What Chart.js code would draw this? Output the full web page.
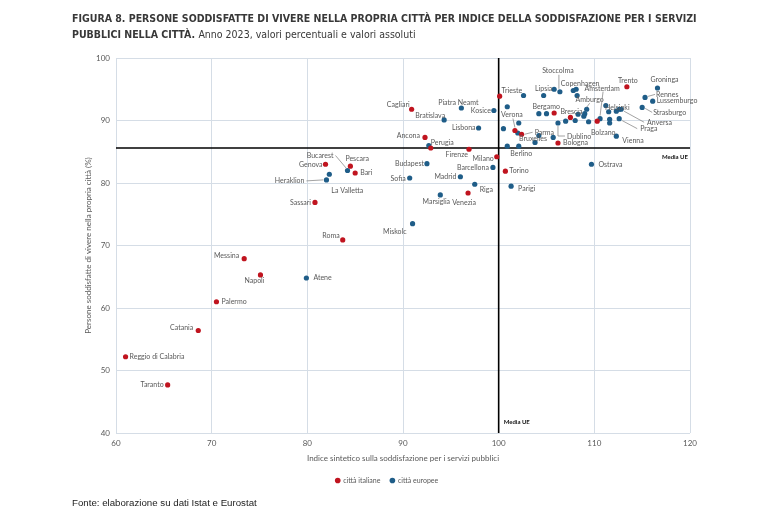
<!DOCTYPE html>
<html lang="it">
<head>
<meta charset="utf-8">
<title>Figura 8</title>
<script src="https://cdn.jsdelivr.net/npm/chart.js@4.4.1/dist/chart.umd.min.js"></script>
<style>
    html, body { margin: 0; padding: 0; background: #fff; }
    #wrap { position: relative; width: 767px; height: 516px; overflow: hidden; }
    #chart { position: absolute; left: 0; top: 0; }
    .title {
        position: absolute; left: 72px; top: 10px;
        font-family: 'Liberation Sans Narrow', 'DejaVu Sans Condensed', sans-serif;
        font-size: 10.5px; line-height: 16px; font-weight: bold; color: #383838;
    }
    .title span { font-weight: normal; }
    .fonte {
        position: absolute; left: 72px; top: 497px;
        font-family: 'Liberation Sans', Arial, sans-serif; font-size: 9.7px; color: #222;
    }
</style>
</head>
<body>
<div id="wrap">
    <canvas id="chart" width="767" height="516"></canvas>
    <div class="title">FIGURA 8. PERSONE SODDISFATTE DI VIVERE NELLA PROPRIA CITTÀ PER INDICE DELLA SODDISFAZIONE PER I SERVIZI<br>PUBBLICI NELLA CITTÀ. <span>Anno 2023, valori percentuali e valori assoluti</span></div>
    <div class="fonte">Fonte: elaborazione su dati Istat e Eurostat</div>
</div>
<script>
// città italiane
const itNames = ['Reggio di Calabria', 'Taranto', 'Catania', 'Palermo', 'Messina', 'Napoli', 'Sassari', 'Roma',
    'Genova', 'Pescara', 'Bari', 'Cagliari', 'Ancona', 'Perugia', 'Firenze', 'Milano', 'Venezia', 'Torino',
    'Trieste', 'Verona', 'Parma', 'Bergamo', 'Bologna', 'Brescia', 'Bolzano', 'Trento'];
const itX = [61.0, 65.4, 68.6, 70.5, 73.4, 75.1, 80.8, 83.7, 81.9, 84.5, 85.0, 90.9, 92.3, 92.9, 96.9, 99.8, 96.8, 100.7,
    100.1, 101.7, 102.4, 105.8, 106.2, 107.5, 110.3, 113.4];
const itY = [52.2, 47.7, 56.4, 61.0, 67.9, 65.3, 76.9, 70.9, 83.0, 82.7, 81.6, 91.8, 87.3, 85.6, 85.4, 84.2, 78.4, 81.9,
    93.9, 88.4, 87.8, 91.2, 86.4, 90.5, 89.9, 95.4];

// città europee ('' = punto senza etichetta)
const euNames = ['Atene', 'Heraklion', 'La Valletta', 'Bucarest', 'Sofia', 'Miskolc', 'Budapest', '', 'Marsiglia',
    'Bratislava', 'Madrid', 'Piatra Neamt', 'Riga', 'Lisbona', 'Barcellona', 'Kosice', 'Parigi', 'Berlino', '',
    '', '', '', '', '', 'Lipsia', '', 'Stoccolma', '', '', '', 'Bruxelles', '', 'Dublino', '', '', 'Copenhagen',
    '', '', '', '', '', 'Amburgo', '', 'Amsterdam', '', '', 'Helsinki', '', 'Anversa', '', '', 'Praga', 'Vienna',
    'Ostrava', 'Strasburgo', 'Rennes', 'Lussemburgo', 'Groninga'];
const euX = [79.9, 82.0, 82.3, 84.2, 90.7, 91.0, 92.5, 92.7, 93.9,
    94.3, 96.0, 96.1, 97.5, 97.9, 99.4, 99.5, 101.3, 100.9, 102.1,
    100.9, 100.5, 102.0, 102.1, 102.6, 104.7, 105.8, 106.4, 104.2, 105.0, 104.2, 103.8, 105.7, 106.2, 107.0, 107.8, 108.1,
    108.2, 108.0, 108.3, 108.9, 109.0, 109.2, 109.4, 110.6, 111.2, 111.5, 112.3, 112.6, 112.8, 111.6, 111.6, 112.6, 112.3,
    109.7, 115.0, 115.3, 116.1, 116.6];
const euY = [64.8, 80.5, 81.4, 82.0, 80.8, 73.5, 83.1, 86.0, 78.1,
    90.1, 81.0, 92.0, 79.8, 88.8, 82.5, 91.6, 79.5, 85.9, 85.9,
    92.2, 88.7, 88.0, 89.6, 94.0, 94.0, 95.0, 94.6, 91.1, 91.1, 87.6, 86.5, 87.3, 89.6, 89.9, 94.8, 95.0,
    94.0, 90.0, 91.0, 90.7, 91.1, 91.8, 89.8, 90.3, 92.4, 91.4, 91.5, 91.8, 91.8, 90.2, 89.6, 90.3, 87.5,
    83.0, 92.1, 93.7, 93.1, 95.2];

// medie UE
const meanX = 100;
const meanY = 85.6;

const xTicks = [60, 70, 80, 90, 100, 110, 120];
const yTicks = [40, 50, 60, 70, 80, 90, 100];

// posizione delle etichette rispetto al punto (pixel)
const labelPos = {
    'Reggio di Calabria': { dx: 4 },
    'Taranto': { dx: -4, align: 'right' },
    'Catania': { dx: -5, dy: -3, align: 'right' },
    'Palermo': { dx: 5 },
    'Messina': { dx: -5, dy: -3, align: 'right' },
    'Napoli': { dx: -6, dy: 6, align: 'center' },
    'Sassari': { dx: -4, align: 'right' },
    'Roma': { dx: -3, dy: -4, align: 'right' },
    'Genova': { dx: -3, align: 'right' },
    'Pescara': { dx: -5, dy: -7 },
    'Bari': { dx: 5 },
    'Cagliari': { dx: -2, dy: -5, align: 'right' },
    'Ancona': { dx: -5, dy: -2, align: 'right' },
    'Perugia': { dx: 0, dy: -5 },
    'Firenze': { dx: -1, dy: 5, align: 'right' },
    'Milano': { dx: -3, dy: 2, align: 'right' },
    'Venezia': { dx: -4, dy: 10, align: 'center' },
    'Torino': { dx: 4 },
    'Trieste': { dx: 2, dy: -5 },
    'Verona': { dx: -3, dy: -16, align: 'center', leader: [[-2, -12], [0, -3]] },
    'Parma': { dx: 13, dy: -2, leader: [[3, 0], [11, -2]] },
    'Bergamo': { dx: -8, dy: -6, align: 'center' },
    'Bologna': { dx: 5 },
    'Brescia': { dx: 1, dy: -6, align: 'center' },
    'Bolzano': { dx: 6, dy: 12, align: 'center' },
    'Trento': { dx: 1, dy: -6, align: 'center' },
    'Atene': { dx: 7 },
    'Heraklion': { dx: -22, dy: 1, align: 'right', leader: [[-20, 1], [-3, 0]] },
    'La Valletta': { dx: 2, dy: 16 },
    'Bucarest': { dx: -14, dy: -15, align: 'right', leader: [[-12, -15], [-1, -2]] },
    'Sofia': { dx: -4, dy: 1, align: 'right' },
    'Miskolc': { dx: -6, dy: 8, align: 'right' },
    'Budapest': { dx: -3, align: 'right' },
    'Marsiglia': { dx: -4, dy: 7, align: 'center' },
    'Bratislava': { dx: 1, dy: -4, align: 'right' },
    'Madrid': { dx: -4, align: 'right' },
    'Piatra Neamt': { dx: -3, dy: -5, align: 'center' },
    'Riga': { dx: 5, dy: 5 },
    'Lisbona': { dx: -3, align: 'right' },
    'Barcellona': { dx: -4, align: 'right' },
    'Kosice': { dx: -3, align: 'right' },
    'Parigi': { dx: 7, dy: 3 },
    'Berlino': { dx: 3, dy: 8 },
    'Lipsia': { dx: 0, dy: -7, align: 'center' },
    'Stoccolma': { dx: -2, dy: -21, align: 'center', leader: [[-1, -17], [-1, -3]] },
    'Copenhagen': { dx: 4, dy: -6, align: 'center' },
    'Amburgo': { dx: 3, dy: -10, align: 'center', leader: [[3, -6], [0, -2]] },
    'Amsterdam': { dx: 2, dy: -30, align: 'center', leader: [[3, -27], [0, -3]] },
    'Bruxelles': { dx: -2, dy: -4, align: 'center' },
    'Dublino': { dx: 9, dy: 14, leader: [[0, 3], [0, 13], [7, 13]] },
    'Helsinki': { dx: 1, dy: -3, align: 'center' },
    'Anversa': { dx: 26, dy: 13, leader: [[3, 2], [23, 13]] },
    'Praga': { dx: 21, dy: 10, leader: [[3, 2], [18, 10]] },
    'Vienna': { dx: 6, dy: 5 },
    'Ostrava': { dx: 7 },
    'Strasburgo': { dx: 11, dy: 5, leader: [[3, 1], [10, 5]] },
    'Rennes': { dx: 11, dy: -3, leader: [[3, -1], [10, -3]] },
    'Lussemburgo': { dx: 4 },
    'Groninga': { dx: 7, dy: -8, align: 'center' }
};

const RED = '#c0141f';
const BLUE = '#1f5d88';
const GRID = '#d5dde6';
const TXT = '#595959';

function toPoints(xs, ys) {
    return xs.map((v, i) => ({ x: v, y: ys[i] }));
}

// etichette delle città e scritte "Media UE"
const cityLabels = {
    id: 'cityLabels',
    afterDatasetsDraw(chart) {
        const { ctx, scales: { x, y } } = chart;
        ctx.save();
        ctx.font = '7px Lato';
        ctx.textBaseline = 'middle';
        chart.data.datasets.forEach(ds => {
            if (!ds.names) return;
            ds.data.forEach((p, j) => {
                const name = ds.names[j];
                if (!name) return;
                const o = Object.assign({ dx: 5, dy: 0, align: 'left' }, labelPos[name] || {});
                const px = x.getPixelForValue(p.x);
                const py = y.getPixelForValue(p.y);
                if (o.leader) {
                    ctx.strokeStyle = '#8c8c8c';
                    ctx.lineWidth = 0.8;
                    ctx.beginPath();
                    o.leader.forEach((pt, k) => {
                        if (k === 0) ctx.moveTo(px + pt[0], py + pt[1]);
                        else ctx.lineTo(px + pt[0], py + pt[1]);
                    });
                    ctx.stroke();
                }
                ctx.fillStyle = TXT;
                ctx.textAlign = o.align;
                ctx.fillText(name, px + o.dx, py + o.dy);
            });
        });
        ctx.font = 'bold 6px Lato';
        ctx.fillStyle = '#111';
        ctx.textAlign = 'right';
        ctx.fillText('Media UE', x.right - 2, y.getPixelForValue(meanY) + 9);
        ctx.textAlign = 'left';
        ctx.fillText('Media UE', x.getPixelForValue(meanX) + 5, y.bottom - 11);
        ctx.restore();
    }
};

const ctx = document.getElementById('chart').getContext('2d');
new Chart(ctx, {
    type: 'scatter',
    data: {
        datasets: [
            {
                label: 'città italiane',
                names: itNames,
                data: toPoints(itX, itY),
                backgroundColor: RED,
                borderColor: RED,
                borderWidth: 0,
                pointRadius: 2.6,
                order: 1
            },
            {
                label: 'città europee',
                names: euNames,
                data: toPoints(euX, euY),
                backgroundColor: BLUE,
                borderColor: BLUE,
                borderWidth: 0,
                pointRadius: 2.6,
                order: 2
            },
            {
                type: 'line',
                label: 'mediaY',
                data: [{ x: 60, y: meanY }, { x: 120, y: meanY }],
                borderColor: '#000',
                borderWidth: 1.6,
                pointRadius: 0,
                order: 10
            },
            {
                type: 'line',
                label: 'mediaX',
                data: [{ x: meanX, y: 40 }, { x: meanX, y: 100 }],
                borderColor: '#000',
                borderWidth: 1.6,
                pointRadius: 0,
                order: 10
            }
        ]
    },
    options: {
        responsive: false,
        animation: false,
        layout: { padding: { top: 58, right: 77, left: 84, bottom: 22 } },
        scales: {
            x: {
                type: 'linear',
                min: 60, max: 120,
                afterBuildTicks: s => { s.ticks = xTicks.map(v => ({ value: v })); },
                afterFit: s => { s.height = 34; },
                grid: { color: GRID, lineWidth: 1, drawTicks: false },
                border: { display: false },
                ticks: { color: TXT, font: { family: 'Lato', size: 8 }, padding: 6 },
                title: {
                    display: true,
                    text: 'Indice sintetico sulla soddisfazione per i servizi pubblici',
                    color: TXT, font: { family: 'Lato', size: 8 },
                    padding: { top: 2, bottom: 4 }
                }
            },
            y: {
                type: 'linear',
                min: 40, max: 100,
                afterBuildTicks: s => { s.ticks = yTicks.map(v => ({ value: v })); },
                afterFit: s => { s.width = 32; },
                grid: { color: GRID, lineWidth: 1, drawTicks: false },
                border: { display: false },
                ticks: { color: TXT, font: { family: 'Lato', size: 8 }, padding: 6 },
                title: {
                    display: true,
                    text: 'Persone soddisfatte di vivere nella propria città (%)',
                    color: TXT, font: { family: 'Lato', size: 8 },
                    padding: { top: 0, bottom: 0 }
                }
            }
        },
        plugins: {
            legend: {
                position: 'bottom',
                labels: {
                    filter: item => item.text.startsWith('città'),
                    usePointStyle: true,
                    pointStyle: 'circle',
                    boxWidth: 4,
                    boxHeight: 4,
                    padding: 10,
                    color: TXT,
                    font: { family: 'Lato', size: 7 }
                }
            },
            tooltip: { enabled: false }
        }
    },
    plugins: [cityLabels]
});
</script>
</body>
</html>
